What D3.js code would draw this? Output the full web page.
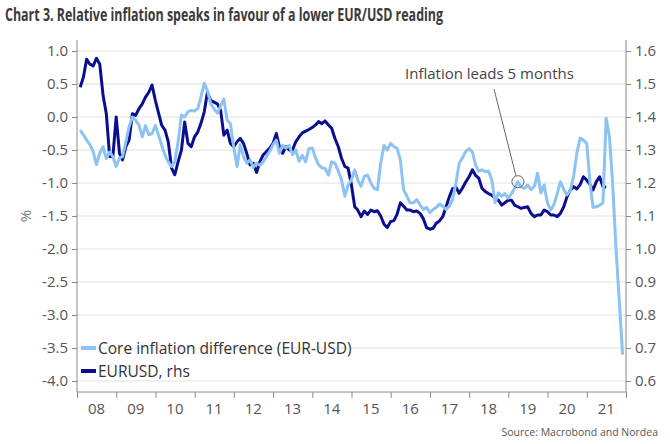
<!DOCTYPE html>
<html><head><meta charset="utf-8">
<script src="https://cdn.jsdelivr.net/npm/d3@7"></script>
<style>
body{margin:0;background:#fff;}
svg{display:block;font-family:"Open Sans","Noto Sans",sans-serif;}
</style></head><body>
<svg id="c" width="670" height="444"></svg>
<script>
const title = "Chart 3. Relative inflation speaks in favour of a lower EUR/USD reading";
const sourceText = "Source: Macrobond and Nordea";
const annotationText = "Inflation leads 5 months";
const seriesNames = ["Core inflation difference (EUR-USD)", "EURUSD, rhs"];
const leftTicks = [1.0,0.5,0.0,-0.5,-1.0,-1.5,-2.0,-2.5,-3.0,-3.5,-4.0];
const leftTickLabels = ["1.0","0.5","0.0","-0.5","-1.0","-1.5","-2.0","-2.5","-3.0","-3.5","-4.0"];
const rightTicks = [1.6,1.5,1.4,1.3,1.2,1.1,1.0,0.9,0.8,0.7,0.6];
const rightTickLabels = ["1.6","1.5","1.4","1.3","1.2","1.1","1.0","0.9","0.8","0.7","0.6"];
const years = [2008,2009,2010,2011,2012,2013,2014,2015,2016,2017,2018,2019,2020,2021];
const yearLabels = ["08","09","10","11","12","13","14","15","16","17","18","19","20","21"];
const startYear = 2008;
// monthly (month-end), Jan 2008 - Jun 2021
const eurusd = [
1.49,1.52,1.575,1.56,1.555,1.578,1.56,1.465,1.41,1.28,
1.28,1.40,1.29,1.27,1.31,1.33,1.41,1.405,1.425,1.44,
1.46,1.475,1.497,1.45,1.41,1.375,1.36,1.325,1.245,1.225,
1.265,1.30,1.385,1.32,1.31,1.34,1.355,1.38,1.415,1.475,
1.45,1.445,1.44,1.42,1.345,1.36,1.32,1.31,1.325,1.335,
1.32,1.29,1.255,1.26,1.232,1.265,1.285,1.295,1.305,1.32,
1.35,1.31,1.29,1.31,1.30,1.30,1.325,1.34,1.352,1.357,
1.362,1.368,1.376,1.386,1.38,1.388,1.376,1.366,1.335,1.31,
1.275,1.25,1.245,1.195,1.128,1.118,1.098,1.115,1.105,1.118,
1.113,1.116,1.10,1.075,1.065,1.083,1.086,1.105,1.14,1.13,
1.118,1.118,1.113,1.115,1.108,1.092,1.065,1.06,1.063,1.078,
1.085,1.098,1.128,1.158,1.183,1.187,1.169,1.185,1.203,1.219,
1.24,1.224,1.215,1.184,1.174,1.168,1.163,1.155,1.148,1.133,
1.14,1.148,1.148,1.133,1.128,1.123,1.126,1.128,1.108,1.098,
1.103,1.103,1.118,1.113,1.103,1.103,1.098,1.108,1.128,1.158,
1.178,1.189,1.182,1.195,1.219,1.209,1.195,1.179,1.204,1.219,
1.189,1.187];
// monthly, Jan 2008 - Nov 2021
const coreDiff = [
-0.20,-0.27,-0.35,-0.42,-0.53,-0.72,-0.55,-0.45,-0.63,-0.53,
-0.60,-0.75,-0.62,-0.60,-0.38,-0.15,0.0,-0.05,-0.12,-0.30,
-0.13,-0.27,-0.25,-0.13,-0.28,-0.43,-0.58,-0.68,-0.75,-0.68,
-0.37,0.03,0.0,0.08,0.10,0.09,0.13,0.30,0.51,0.40,
0.20,0.12,0.06,0.17,0.27,-0.05,-0.10,-0.45,-0.75,-0.42,
-0.60,-0.70,-0.65,-0.76,-0.70,-0.73,-0.68,-0.60,-0.52,-0.42,
-0.35,-0.55,-0.43,-0.47,-0.43,-0.57,-0.50,-0.67,-0.58,-0.68,
-0.48,-0.47,-0.62,-0.72,-0.77,-0.78,-0.88,-0.68,-0.70,-0.82,
-0.95,-1.20,-1.03,-0.95,-0.80,-0.95,-1.05,-0.90,-0.88,-1.00,
-1.08,-1.10,-0.70,-0.43,-0.50,-0.40,-0.45,-0.47,-0.65,-1.10,
-1.20,-1.30,-1.30,-1.25,-1.33,-1.40,-1.37,-1.45,-1.40,-1.37,
-1.32,-1.35,-1.40,-1.35,-1.25,-1.00,-0.70,-0.62,-0.52,-0.48,
-0.53,-0.72,-0.82,-0.80,-0.83,-0.82,-0.95,-1.30,-1.15,-1.20,
-1.16,-1.23,-1.16,-1.08,-0.98,-1.06,-1.08,-1.03,-1.10,-1.05,
-0.85,-1.15,-1.03,-1.30,-1.41,-1.33,-1.16,-0.98,-1.10,-1.18,
-1.12,-0.90,-0.55,-0.32,-0.35,-0.40,-1.00,-1.37,-1.36,-1.34,
-1.30,-0.02,-0.30,-1.05,-2.0,-2.8,-3.6];
const annotIndex = 134; // highlighted point of the inflation series

const colLight = "#8cc3f2", colDark = "#0b0f8f";
const gridCol = "#e2e2e2", axisCol = "#8a8a8a", textCol = "#555";

const monthEnd = i => new Date(startYear, i + 1, 0);
const svg = d3.select("#c");
const X0 = 77, X1 = 626, Ytop = 51, Ybot = 381, Yaxis = 392;
const x = d3.scaleTime().domain([new Date(startYear,0,1), new Date(years[years.length-1]+1,0,1)]).range([X0, X1]);
const yL = d3.scaleLinear().domain([-4, 1]).range([Ybot, Ytop]);
const yR = d3.scaleLinear().domain([0.6, 1.6]).range([Ybot, Ytop]);

// grid
svg.append("g").selectAll("line").data(leftTicks).join("line")
  .attr("x1", X0).attr("x2", X1).attr("y1", d => yL(d)).attr("y2", d => yL(d))
  .attr("stroke", gridCol).attr("stroke-width", 1);

// left axis
const gL = svg.append("g").attr("transform", `translate(${X0},0)`)
  .call(d3.axisLeft(yL).tickValues(leftTicks).tickSize(5).tickPadding(4)
    .tickFormat((d,i) => leftTickLabels[i]));
gL.select(".domain").remove();
gL.append("line").attr("x1",0).attr("x2",0).attr("y1",40).attr("y2",Yaxis).attr("stroke",axisCol);
// right axis
const gR = svg.append("g").attr("transform", `translate(${X1},0)`)
  .call(d3.axisRight(yR).tickValues(rightTicks).tickSize(5).tickPadding(4)
    .tickFormat((d,i) => rightTickLabels[i]));
gR.select(".domain").remove();
gR.append("line").attr("x1",0).attr("x2",0).attr("y1",40).attr("y2",Yaxis).attr("stroke",axisCol);
// bottom axis
const yearStarts = years.map(y => new Date(y,0,1)).concat([new Date(years[years.length-1]+1,0,1)]);
const gB = svg.append("g").attr("transform", `translate(0,${Yaxis})`)
  .call(d3.axisBottom(x).tickValues(yearStarts).tickSize(6).tickFormat(""));
gB.select(".domain").attr("stroke", axisCol).attr("d", `M${X0},0H${X1}`);
svg.append("g").selectAll("text").data(years).join("text")
  .attr("x", d => x(new Date(d,6,1))).attr("y", Yaxis + 22)
  .attr("text-anchor","middle").attr("font-size",15).attr("fill",textCol)
  .text((d,i) => yearLabels[i]);

[gL,gR,gB].forEach(g => {
  g.selectAll(".tick line").attr("stroke", axisCol);
  g.selectAll(".tick text").attr("fill", textCol).attr("font-size", 15)
   .attr("font-family", '"Open Sans","Noto Sans",sans-serif');
});

// % label
svg.append("text").attr("transform", `translate(31,${yL(-1.5)}) rotate(-90)`)
  .attr("text-anchor","middle").attr("font-size",15).attr("fill","#777").text("%");

// lines
const lineL = d3.line().x((d,i) => x(monthEnd(i))).y(d => yL(d)).curve(d3.curveLinear);
const lineR = d3.line().x((d,i) => x(monthEnd(i))).y(d => yR(d)).curve(d3.curveLinear);
svg.append("path").datum(eurusd).attr("d", lineR).attr("fill","none")
  .attr("stroke", colDark).attr("stroke-width", 3).attr("stroke-linejoin","round");
svg.append("path").datum(coreDiff).attr("d", lineL).attr("fill","none")
  .attr("stroke", colLight).attr("stroke-width", 3).attr("stroke-linejoin","round");

// annotation
const ax = x(monthEnd(annotIndex)), ay = yL(coreDiff[annotIndex]);
svg.append("circle").attr("cx", ax).attr("cy", ay).attr("r", 6)
  .attr("fill","none").attr("stroke","#666").attr("stroke-width",1);
svg.append("line").attr("x1", 494).attr("y1", 89).attr("x2", ax - 2).attr("y2", ay - 6)
  .attr("stroke","#666").attr("stroke-width",1);
svg.append("text").attr("x", 405).attr("y", 79).attr("font-size",15).attr("fill","#444")
  .text(annotationText);

// legend
const leg = svg.append("g");
[[colLight, yL(-3.5)], [colDark, yL(-3.5) + 23]].forEach((c,i) => {
  leg.append("line").attr("x1",81).attr("x2",96).attr("y1",c[1]).attr("y2",c[1])
    .attr("stroke",c[0]).attr("stroke-width",4);
  leg.append("text").attr("x",98).attr("y",c[1]+5.5).attr("font-size",15.5).attr("fill","#333")
    .text(seriesNames[i]);
});

// title & source
svg.append("text").attr("x",5).attr("y",21).attr("font-size",17).attr("font-weight",700)
  .attr("font-family",'"Liberation Sans Narrow","Open Sans",sans-serif')
  .attr("fill","#3a3a3a").attr("textLength",438).attr("lengthAdjust","spacingAndGlyphs").text(title);
svg.append("text").attr("x",658).attr("y",436).attr("text-anchor","end").attr("font-size",10.5)
  .attr("font-family",'"Liberation Sans Narrow","Open Sans",sans-serif')
  .attr("fill","#555").text(sourceText);
</script>
</body></html>
